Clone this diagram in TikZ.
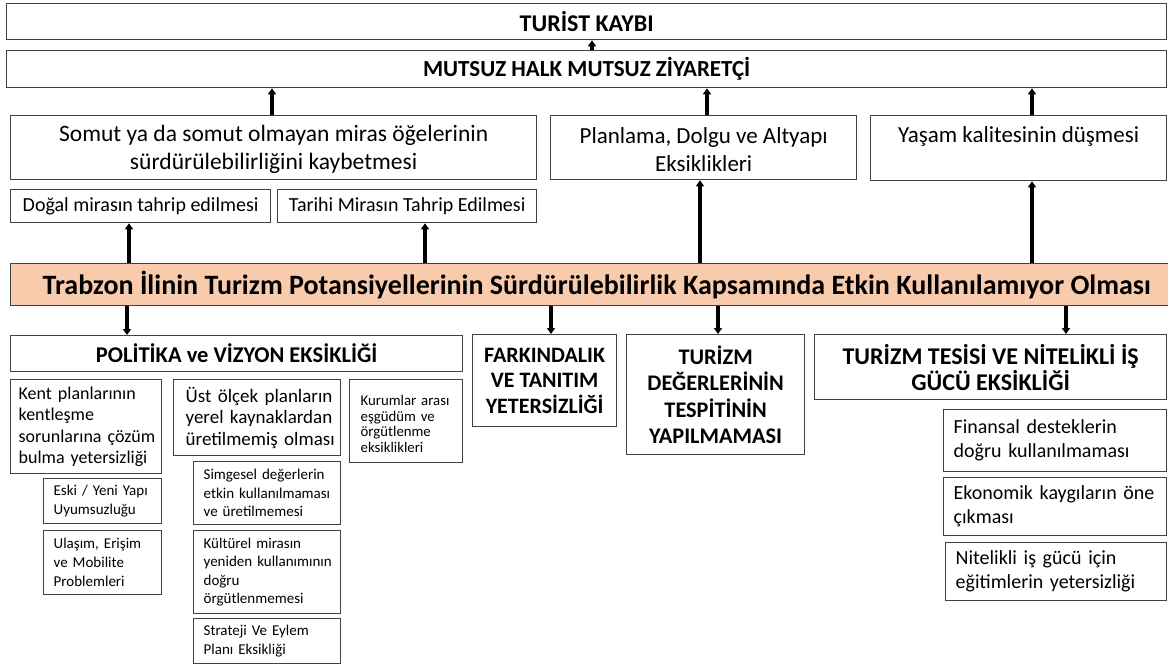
\documentclass[tikz,border=0pt]{standalone}
\usepackage{fontspec}
\setmainfont{Carlito}
\usetikzlibrary{arrows.meta,calc}
\definecolor{peach}{HTML}{F8CBAD}
\definecolor{edge}{HTML}{404040}
\newcommand{\myfs}[2]{\fontsize{#1}{#2}\selectfont}
\newcommand{\tline}[1]{\mbox{#1}}
\begin{document}
\begin{tikzpicture}[x=1pt,y=-1pt,
  box/.style={draw=edge, line width=1.3pt, anchor=north west, inner xsep=0pt, inner ysep=0pt, fill=white},
  ctr/.style={align=center},
  lft/.style={align=left},
  arr/.style={line width=3.2pt, draw=black, -{Triangle[length=6pt,width=8pt]}},
]
\useasboundingbox (0,0) rectangle (1168,665);

% top level
\node[box, ctr, minimum width=1160pt, minimum height=36pt, font=\bfseries\myfs{24}{28}] (turist) at (6,3) {TURİST KAYBI};
\node[box, ctr, minimum width=1160pt, minimum height=37pt, font=\bfseries\myfs{23}{27}] (mutsuz) at (6,50) {MUTSUZ HALK MUTSUZ ZİYARETÇİ};

% second level
\node[box, ctr, minimum width=526pt, minimum height=64pt, font=\myfs{23.5}{28}] (somut) at (10,115) {\rule{0pt}{20pt}Somut ya da somut olmayan miras öğelerinin\\sürdürülebilirliğini kaybetmesi};
\node[box, ctr, minimum width=306pt, minimum height=64pt, font=\myfs{23}{28}] (planlama) at (550,115) {\rule{0pt}{20pt}Planlama, Dolgu ve Altyapı\\Eksiklikleri};
\node[box, ctr, minimum width=296pt, minimum height=65pt, font=\myfs{23}{28}] (yasam) at (870,115) {\rule{0pt}{20pt}Yaşam kalitesinin düşmesi\\\phantom{Ey}};

\node[box, ctr, minimum width=260pt, minimum height=33pt, font=\myfs{20}{24}] (dogal) at (10,189) {Doğal mirasın tahrip edilmesi};
\node[box, ctr, minimum width=259pt, minimum height=33pt, font=\myfs{20}{24}] (tarihi) at (277,189) {Tarihi Mirasın Tahrip Edilmesi};

% main bar (runs past the right edge, as in the reference)
\node[box, ctr, fill=peach, draw=black!75, minimum width=1172pt, minimum height=42pt, font=\bfseries\myfs{28}{32}] (bar) at (10,263) {Trabzon İlinin Turizm Potansiyellerinin Sürdürülebilirlik Kapsamında Etkin Kullanılamıyor Olması};

% lower headers
\node[box, ctr, minimum width=452pt, minimum height=36pt, font=\bfseries\myfs{22.5}{26}] (politika) at (10,335) {POLİTİKA ve VİZYON EKSİKLİĞİ};
\node[box, ctr, minimum width=144pt, minimum height=92pt, font=\bfseries\myfs{22}{25.5}] (fark) at (472,334) {FARKINDALIK\\VE TANITIM\\YETERSİZLİĞİ};
\node[box, ctr, minimum width=178pt, minimum height=120pt, font=\bfseries\myfs{22.3}{26.5}] (turizmd) at (626,334) {TURİZM\\DEĞERLERİNİN\\TESPİTİNİN\\YAPILMAMASI};
\node[box, ctr, minimum width=352pt, minimum height=65pt, font=\bfseries\myfs{24}{26}] (tesis) at (814,334) {TURİZM TESİSİ VE NİTELİKLİ İŞ\\GÜCÜ EKSİKLİĞİ};

% politika sub boxes
\node[box, lft, minimum width=151pt, minimum height=94pt, text width=135pt, font=\myfs{18}{21.5}] (kent) at (10,379) {\tline{Kent planlarının}\\\tline{kentleşme}\\\tline{sorunlarına çözüm}\\\tline{bulma yetersizliği}};
\node[box, lft, minimum width=167pt, minimum height=76pt, text width=143pt, font=\myfs{19}{21.5}] (ust) at (173,379) {\tline{Üst ölçek planların}\\\tline{yerel kaynaklardan}\\\tline{üretilmemiş olması}};
\node[box, lft, minimum width=113pt, minimum height=83pt, text width=91pt, font=\myfs{14.8}{15.5}] (kurumlar) at (349,379) {\rule{0pt}{16pt}\tline{Kurumlar arası}\\\tline{eşgüdüm ve}\\\tline{örgütlenme}\\\tline{eksiklikleri}};

\node[box, lft, minimum width=118pt, minimum height=45pt, text width=98pt, font=\myfs{15}{19.5}] (eski) at (43,478) {\tline{Eski / Yeni Yapı}\\\tline{Uyumsuzluğu}};
\node[box, lft, minimum width=118pt, minimum height=64pt, text width=98pt, font=\myfs{15}{19}] (ulasim) at (43,530) {\tline{Ulaşım, Erişim}\\\tline{ve Mobilite}\\\tline{Problemleri}};

\node[box, lft, minimum width=147pt, minimum height=63pt, text width=127pt, font=\myfs{15}{18.5}] (simgesel) at (193,461) {\tline{Simgesel değerlerin}\\\tline{etkin kullanılmaması}\\\tline{ve üretilmemesi}};
\node[box, lft, minimum width=147pt, minimum height=83pt, text width=127pt, font=\myfs{15}{18.5}] (kulturel) at (193,530) {\tline{Kültürel mirasın}\\\tline{yeniden kullanımının}\\\tline{doğru}\\\tline{örgütlenmemesi}};
\node[box, lft, minimum width=147pt, minimum height=45pt, text width=127pt, font=\myfs{15}{18.5}] (strateji) at (193,618) {\tline{Strateji Ve Eylem}\\\tline{Planı Eksikliği}};

% tesis sub boxes
\node[box, lft, minimum width=223pt, minimum height=62pt, text width=203pt, font=\myfs{20}{24}] (finansal) at (943,409) {\tline{Finansal desteklerin}\\\tline{doğru kullanılmaması}};
\node[box, lft, minimum width=223pt, minimum height=58pt, text width=203pt, font=\myfs{20}{24}] (ekonomik) at (943,477) {\tline{Ekonomik kaygıların öne}\\\tline{çıkması}};
\node[box, lft, minimum width=221pt, minimum height=58pt, text width=201pt, font=\myfs{20}{24}] (nitelikli) at (945,542) {\tline{Nitelikli iş gücü için}\\\tline{eğitimlerin yetersizliği}};

% arrows upward
\draw[arr] ([xshift=586pt]mutsuz.north west) -- ([xshift=586pt]turist.south west);
\draw[arr] ([xshift=262pt]somut.north west) -- ([xshift=266pt]mutsuz.south west);
\draw[arr] ([xshift=157pt]planlama.north west) -- ([xshift=701pt]mutsuz.south west);
\draw[arr] ([xshift=162pt]yasam.north west) -- ([xshift=1026pt]mutsuz.south west);
\draw[arr] ([xshift=119pt]bar.north west) -- ([xshift=119pt]dogal.south west);
\draw[arr] ([xshift=415pt]bar.north west) -- ([xshift=148pt]tarihi.south west);
\draw[arr] ([xshift=690pt]bar.north west) -- ([xshift=150pt]planlama.south west);
\draw[arr] ([xshift=1022pt]bar.north west) -- ([xshift=162pt]yasam.south west);

% arrows downward
\draw[arr] ([xshift=117pt]bar.south west) -- ([xshift=117pt]politika.north west);
\draw[arr] ([xshift=541pt]bar.south west) -- ([xshift=79pt]fark.north west);
\draw[arr] ([xshift=708pt]bar.south west) -- ([xshift=92pt]turizmd.north west);
\draw[arr] ([xshift=1056pt]bar.south west) -- ([xshift=252pt]tesis.north west);
\end{tikzpicture}
\end{document}
